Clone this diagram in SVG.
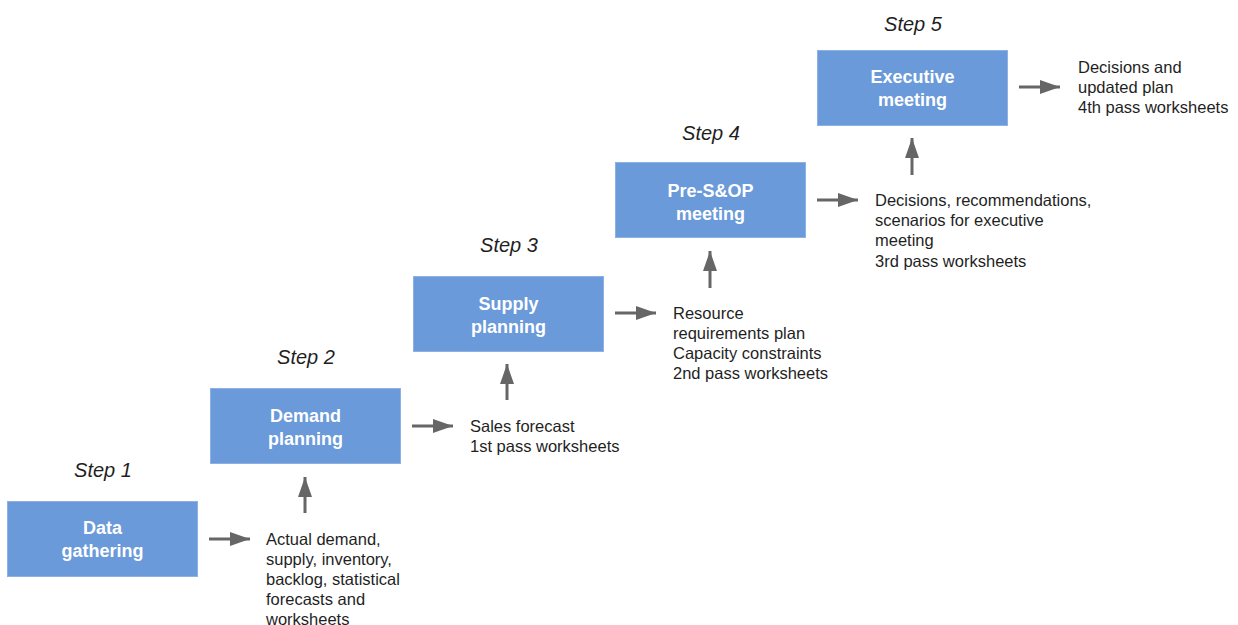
<svg xmlns="http://www.w3.org/2000/svg" width="1238" height="625" viewBox="0 0 1238 625">
  <defs>
    <style>
      .box { fill: #6a9ad9; stroke: #8db1e4; stroke-width: 1; }
      .boxtext { font-family: "Liberation Sans", Arial, sans-serif; font-weight: bold; font-size: 18px; fill: #ffffff; text-anchor: middle; }
      .step { font-family: "Liberation Sans", Arial, sans-serif; font-style: italic; font-size: 20px; fill: #1f1f1f; text-anchor: middle; }
      .note { font-family: "Liberation Sans", Arial, sans-serif; font-size: 16.5px; fill: #1f1f1f; }
      .conn { stroke: #666666; stroke-width: 3; fill: none; marker-end: url(#head); }
    </style>
    <marker id="head" viewBox="0 0 20 14" refX="20" refY="7" markerWidth="20" markerHeight="14" markerUnits="userSpaceOnUse" orient="auto">
      <path d="M0,0 L20,7 L0,14 Z" fill="#666666"/>
    </marker>
  </defs>

  <rect width="1238" height="625" fill="#ffffff"/>

  <!-- Step labels -->
  <g id="step-labels">
    <text class="step" x="103" y="477">Step 1</text>
    <text class="step" x="306" y="364">Step 2</text>
    <text class="step" x="509" y="252">Step 3</text>
    <text class="step" x="711" y="140">Step 4</text>
    <text class="step" x="913" y="31">Step 5</text>
  </g>

  <!-- Process steps -->
  <g id="node-data-gathering">
    <rect class="box" x="7.5" y="501.5" width="190" height="75"/>
    <text class="boxtext" x="102.5" y="534">Data</text>
    <text class="boxtext" x="102.5" y="557">gathering</text>
  </g>
  <g id="node-demand-planning">
    <rect class="box" x="210.5" y="388.5" width="190" height="75"/>
    <text class="boxtext" x="305.5" y="422">Demand</text>
    <text class="boxtext" x="305.5" y="445">planning</text>
  </g>
  <g id="node-supply-planning">
    <rect class="box" x="413.5" y="276.5" width="190" height="75"/>
    <text class="boxtext" x="508.5" y="310">Supply</text>
    <text class="boxtext" x="508.5" y="333">planning</text>
  </g>
  <g id="node-pre-sop">
    <rect class="box" x="615.5" y="162.5" width="190" height="75"/>
    <text class="boxtext" x="710.5" y="197">Pre-S&amp;OP</text>
    <text class="boxtext" x="710.5" y="220">meeting</text>
  </g>
  <g id="node-executive">
    <rect class="box" x="817.5" y="50.5" width="190" height="75"/>
    <text class="boxtext" x="912.5" y="83">Executive</text>
    <text class="boxtext" x="912.5" y="106">meeting</text>
  </g>

  <!-- Outputs of each step -->
  <g id="output-1">
    <text class="note" x="266" y="545">Actual demand,</text>
    <text class="note" x="266" y="565">supply, inventory,</text>
    <text class="note" x="266" y="585">backlog, statistical</text>
    <text class="note" x="266" y="605">forecasts and</text>
    <text class="note" x="266" y="625">worksheets</text>
  </g>
  <g id="output-2">
    <text class="note" x="470" y="432">Sales forecast</text>
    <text class="note" x="470" y="452">1st pass worksheets</text>
  </g>
  <g id="output-3">
    <text class="note" x="673" y="319">Resource</text>
    <text class="note" x="673" y="339">requirements plan</text>
    <text class="note" x="673" y="359">Capacity constraints</text>
    <text class="note" x="673" y="379">2nd pass worksheets</text>
  </g>
  <g id="output-4">
    <text class="note" x="875" y="206">Decisions, recommendations,</text>
    <text class="note" x="875" y="226">scenarios for executive</text>
    <text class="note" x="875" y="246">meeting</text>
    <text class="note" x="875" y="267">3rd pass worksheets</text>
  </g>
  <g id="output-5">
    <text class="note" x="1078" y="73">Decisions and</text>
    <text class="note" x="1078" y="93">updated plan</text>
    <text class="note" x="1078" y="113">4th pass worksheets</text>
  </g>

  <!-- Connectors -->
  <g id="connectors">
    <line class="conn" x1="209" y1="539" x2="250" y2="539"/>
    <line class="conn" x1="305" y1="513" x2="305" y2="477"/>
    <line class="conn" x1="412" y1="426" x2="453" y2="426"/>
    <line class="conn" x1="507" y1="400" x2="507" y2="364"/>
    <line class="conn" x1="615" y1="313" x2="656" y2="313"/>
    <line class="conn" x1="710" y1="288" x2="710" y2="251"/>
    <line class="conn" x1="817" y1="200" x2="858" y2="200"/>
    <line class="conn" x1="912" y1="175" x2="912" y2="138"/>
    <line class="conn" x1="1019" y1="87" x2="1060" y2="87"/>
  </g>
</svg>
